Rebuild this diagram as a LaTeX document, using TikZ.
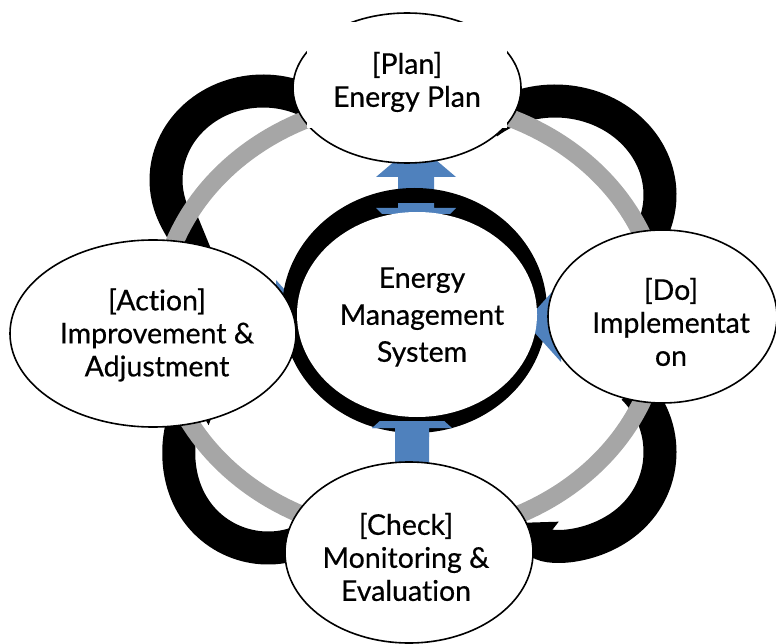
\documentclass[tikz,border=0pt]{standalone}
\usepackage{fontspec}
\setmainfont{Lato}[Ligatures={NoCommon,NoContextual},FakeBold=0.5]
\usetikzlibrary{arrows.meta,shapes.geometric}
\definecolor{ringgray}{HTML}{A6A6A6}
\definecolor{ablue}{HTML}{4F81BD}
\begin{document}
\begin{tikzpicture}[x=1pt,y=-1pt,
  blackarc/.style={line width=33pt, black, -{Triangle[length=34pt 0 0, width=54pt 0]}},
  grayring/.style={line width=18pt, ringgray},
  bluearrow/.style={fill=ablue, draw=none},
  phase/.style={draw=black, ellipse, fill=white, line width=1.6pt, inner sep=0pt},
  label/.style={align=center, text=black, font=\fontsize{28.5}{33}\selectfont, inner sep=0pt},
  ]
\useasboundingbox (0,0) rectangle (776,644);

% centres of the curved arrows
\coordinate (tlC) at (263,180);
\coordinate (trC) at (555,195);
\coordinate (brC) at (570,452);
\coordinate (blC) at (268,460);
\coordinate (ringC) at (410,318);

% black curved arrows
\draw[blackarc] ([shift={(-50:97 and 89)}]tlC) arc[start angle=-50, end angle=-240, x radius=97, y radius=89];
\draw[line width=33pt, black] ([shift={(-130:105 and 94)}]trC) arc[start angle=-130, end angle=62, x radius=105, y radius=94];
\draw[blackarc] ([shift={(-45:90 and 90)}]brC) arc[start angle=-45, end angle=128, radius=90];
\draw[blackarc] ([shift={(60:88 and 88)}]blC) arc[start angle=60, end angle=240, radius=88];

% gray ring
\draw[grayring] (ringC) ellipse[x radius=251, y radius=218];

% blue double arrows (under the central ring)
\def\toparrow{(416,143) -- (456,177) -- (434,177) -- (434,208) -- (456,208) -- (416,248)
  -- (376,208) -- (398,208) -- (398,177) -- (376,177) -- cycle}
\def\botarrow{(412,392) -- (452,428) -- (429,428) -- (429,470) -- (452,470) -- (412,506)
  -- (372,470) -- (395,470) -- (395,428) -- (372,428) -- cycle}
\fill[bluearrow] \toparrow;
\fill[bluearrow] \botarrow;
\fill[bluearrow] (200,320) -- (236,280) -- (236,302) -- (276,302) -- (276,280) -- (312,320)
  -- (276,360) -- (276,338) -- (236,338) -- (236,360) -- cycle;

% central ring
\fill[black] (414.5,310.5) ellipse[x radius=132.5, y radius=122.5];
\begin{scope}
  \clip (370,204) rectangle (462,214);
  \fill[bluearrow] \toparrow;
\end{scope}
\begin{scope}
  \clip (370,421) rectangle (462,436);
  \fill[bluearrow] \botarrow;
\end{scope}
\fill[bluearrow] (525,322) -- (561,282) -- (561,304) -- (600,304) -- (600,282) -- (636,322)
  -- (600,362) -- (600,340) -- (561,340) -- (561,362) -- cycle;
\node[ellipse, fill=white, minimum width=240pt, minimum height=205pt, inner sep=0pt] (ems) at (417,314.5) {};
\node[label, font=\fontsize{28.5}{37}\selectfont] (emstext) at (422,317) {Energy\\Management\\System};

% phase ellipses
\node[phase, minimum width=286pt, minimum height=187pt] (act) at (153,333.5) {};
\node[phase, minimum width=229pt, minimum height=173pt] (do) at (662.5,316.5) {};
\node[phase, minimum width=248pt, minimum height=181pt] (chk) at (409,552.5) {};
\node[phase, minimum width=228pt, minimum height=150pt] (plan) at (407,88) {};
\fill[white] (307,22) rectangle (507,128);

\node[label] (plantext) at (407,82) {[Plan]\\Energy Plan};
\node[label] (acttext) at (157,335) {[Action]\\Improvement \&\\Adjustment};
\node[label] (dotext) at (671,322) {[Do]\\Implementat\\on};
\node[label] (chktext) at (406,557) {[Check]\\Monitoring \&\\Evaluation};
\end{tikzpicture}
\end{document}
